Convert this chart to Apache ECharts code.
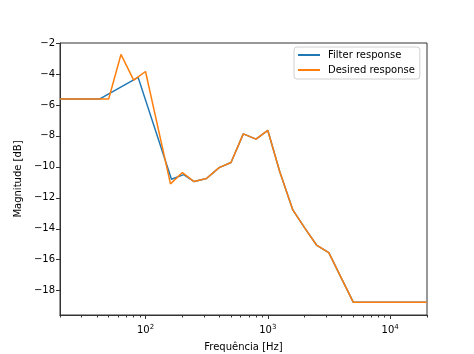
<!DOCTYPE html>
<html>
<head>
<meta charset="utf-8">
<script src="https://cdn.jsdelivr.net/npm/echarts@6/dist/echarts.min.js"></script>
<style>html,body{margin:0;padding:0;background:#fff}#c{width:474px;height:354px}</style>
</head>
<body>
<div id="c"></div>
<script>
// Desired response (1/3-octave points)
var desiredFreq = [20, 25, 31.5, 40, 50, 63, 80, 100, 160, 200, 250, 315, 400, 500, 630, 800, 1000, 1250, 1600, 2000, 2500, 3150, 4000, 5000, 20000];
var desiredMag  = [-5.62, -5.62, -5.62, -5.62, -5.62, -2.74, -4.4, -3.84, -11.1, -10.37, -10.95, -10.75, -10.05, -9.72, -7.87, -8.21, -7.65, -10.3, -12.78, -13.94, -15.05, -15.54, -17.2, -18.75, -18.75];
// Filter response
var filterFreq = [20, 25, 31.5, 42, 87, 163, 205, 250, 315, 400, 500, 630, 800, 1000, 1250, 1600, 2000, 2500, 3150, 4000, 5000, 20000];
var filterMag  = [-5.62, -5.62, -5.62, -5.62, -4.22, -10.8, -10.5, -10.95, -10.75, -10.05, -9.72, -7.87, -8.21, -7.65, -10.3, -12.78, -13.94, -15.05, -15.54, -17.2, -18.75, -18.75];

var seriesNames = ['Filter response', 'Desired response'];
var yTicks = [-18, -16, -14, -12, -10, -8, -6, -4, -2];
var xMajorTicks = [100, 1000, 10000];
var xMinorTicks = [20, 30, 40, 50, 60, 70, 80, 90, 200, 300, 400, 500, 600, 700, 800, 900, 2000, 3000, 4000, 5000, 6000, 7000, 8000, 9000, 20000];
var xLabel = 'Frequência [Hz]';
var yLabel = 'Magnitude [dB]';

function pairs(xs, ys) { return xs.map(function (x, i) { return [x, ys[i]]; }); }

var font = 'DejaVu Sans';
var chart = echarts.init(document.getElementById('c'), null, {renderer: 'canvas'});
chart.setOption({
  animation: false,
  backgroundColor: '#fff',
  textStyle: {fontFamily: font},
  grid: {left: 60, right: 47, top: 43, bottom: 39, containLabel: false, outerBoundsMode: 'none',
    show: true, borderColor: '#333', borderWidth: 1, backgroundColor: 'transparent'},
  legend: {
    orient: 'vertical', left: 294, top: 47,
    data: seriesNames,
    icon: 'rect', itemWidth: 22, itemHeight: 2, itemGap: 5,
    padding: [3, 5, 4, 4],
    backgroundColor: '#fff', borderColor: '#d0d0d0', borderWidth: 1, borderRadius: 3,
    textStyle: {fontFamily: font, fontSize: 10, color: '#000', padding: [0, 0, 0, 3]}
  },
  xAxis: [{
    type: 'log', logBase: 10, min: 20, max: 20000,
    name: xLabel, nameLocation: 'middle', nameGap: 27,
    nameTextStyle: {fontFamily: font, fontSize: 10, color: '#000'},
    axisLine: {show: true, onZero: false, lineStyle: {color: '#333', width: 1}},
    axisTick: {show: true, inside: false, length: 4, customValues: xMajorTicks, lineStyle: {color: '#333', width: 1}},
    axisLabel: {
      customValues: xMajorTicks, margin: 9, color: '#000', fontSize: 10, fontFamily: font,
      formatter: function (v) { var e = Math.round(Math.log10(v)); return '10{s|' + e + '}'; },
      rich: {s: {fontSize: 7, fontFamily: font, color: '#000', verticalAlign: 'top', padding: [0, 0, 6, 0]}}
    },
    splitLine: {show: false}
  }, {
    type: 'log', logBase: 10, min: 20, max: 20000, position: 'bottom', show: true,
    axisLine: {show: true, onZero: false, lineStyle: {color: '#333', width: 1}},
    axisTick: {show: true, inside: false, length: 2.5, customValues: xMinorTicks, lineStyle: {color: '#333', width: 1}},
    axisLabel: {show: false},
    splitLine: {show: false}
  }],
  yAxis: {
    type: 'value', min: -19.57, max: -2,
    name: yLabel, nameLocation: 'middle', nameGap: 34, nameRotate: 90,
    nameTextStyle: {fontFamily: font, fontSize: 10, color: '#000'},
    axisLine: {show: true, lineStyle: {color: '#333', width: 1}},
    axisTick: {show: true, inside: false, length: 4, customValues: yTicks, lineStyle: {color: '#333'}},
    axisLabel: {customValues: yTicks, margin: 5, color: '#000', fontSize: 10, fontFamily: font,
      formatter: function (v) { return String(v).replace('-', '\u2212'); }},
    splitLine: {show: false}
  },
  series: [{
    name: seriesNames[0], type: 'line', xAxisIndex: 0, showSymbol: false, symbol: 'none',
    data: pairs(filterFreq, filterMag),
    lineStyle: {color: '#1f77b4', width: 1.5}, itemStyle: {color: '#1f77b4'}, z: 2
  }, {
    name: seriesNames[1], type: 'line', xAxisIndex: 0, showSymbol: false, symbol: 'none',
    data: pairs(desiredFreq, desiredMag),
    lineStyle: {color: '#ff7f0e', width: 1.5}, itemStyle: {color: '#ff7f0e'}, z: 3
  }]
});
</script>
</body>
</html>
